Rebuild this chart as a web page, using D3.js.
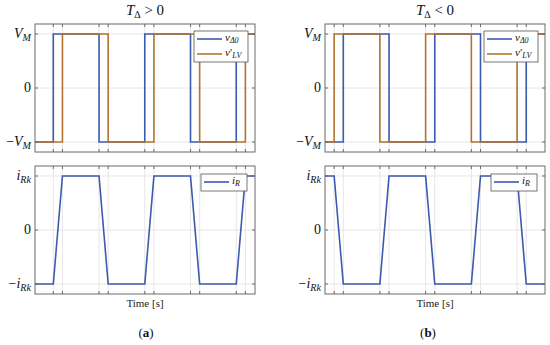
<!DOCTYPE html>
<html>
<head>
<meta charset="utf-8">
<script src="https://cdn.jsdelivr.net/npm/d3@7"></script>
<style>
  body { margin: 0; background: #fff; }
  svg { display: block; }
  text { font-family: 'Liberation Serif', 'DejaVu Serif', 'Times New Roman', serif; }
</style>
</head>
<body>
<svg id="chart" width="550" height="345"></svg>
<script>
'use strict';

// time axis in half-period units
var tDomain = [0, 4.81];

// panel (a): T_delta > 0
var tickTimesA = [0.4, 0.6, 1.4, 1.6, 2.4, 2.6, 3.4, 3.6, 4.4, 4.6];
var vDelta0TimeA = [0, 0.4, 0.4, 1.4, 1.4, 2.4, 2.4, 3.4, 3.4, 4.4, 4.4, 4.81];
var vDelta0ValA  = [-1, -1, 1, 1, -1, -1, 1, 1, -1, -1, 1, 1];
var vLVTimeA = [0, 0.6, 0.6, 1.6, 1.6, 2.6, 2.6, 3.6, 3.6, 4.6, 4.6, 4.81];
var vLVValA  = [-1, -1, 1, 1, -1, -1, 1, 1, -1, -1, 1, 1];
var iRTimeA = [0, 0.4, 0.6, 1.4, 1.6, 2.4, 2.6, 3.4, 3.6, 4.4, 4.6, 4.81];
var iRValA  = [-1, -1, 1, 1, -1, -1, 1, 1, -1, -1, 1, 1];

// panel (b): T_delta < 0
var tickTimesB = [0.2, 0.4, 1.2, 1.4, 2.2, 2.4, 3.2, 3.4, 4.2, 4.4];
var vDelta0TimeB = [0, 0.4, 0.4, 1.4, 1.4, 2.4, 2.4, 3.4, 3.4, 4.4, 4.4, 4.81];
var vDelta0ValB  = [-1, -1, 1, 1, -1, -1, 1, 1, -1, -1, 1, 1];
var vLVTimeB = [0, 0.2, 0.2, 1.2, 1.2, 2.2, 2.2, 3.2, 3.2, 4.2, 4.2, 4.81];
var vLVValB  = [-1, -1, 1, 1, -1, -1, 1, 1, -1, -1, 1, 1];
var iRTimeB = [0, 0.2, 0.4, 1.2, 1.4, 2.2, 2.4, 3.2, 3.4, 4.2, 4.4, 4.81];
var iRValB  = [1, 1, -1, -1, 1, 1, -1, -1, 1, 1, -1, -1];

var yTickVals = [-1, 0, 1];
var vTickLabels = [['−', 'V', 'M'], ['', '0', ''], ['', 'V', 'M']];
var iTickLabels = [['−', 'i', 'Rk'], ['', '0', ''], ['', 'i', 'Rk']];

var blue = '#3c5aae';
var orange = '#b4742e';
var axisColor = '#6b6b6b';
var gridColor = '#e6e6e6';
var serif = "'Liberation Serif', 'DejaVu Serif', serif";

var svg = d3.select('#chart');

function zip(ts, vs) {
  return ts.map(function(t, i) { return [t, vs[i]]; });
}

function addMathText(sel, parts, size) {
  // parts: [prefix, main (italic), subscript]
  if (parts[0]) sel.append('tspan').text(parts[0]);
  sel.append('tspan')
    .style('font-style', parts[1] === '0' ? 'normal' : 'italic')
    .text(parts[1]);
  if (parts[2]) {
    sel.append('tspan')
      .style('font-style', 'italic')
      .attr('font-size', size * 0.72)
      .attr('dy', size * 0.22)
      .text(parts[2]);
  }
}

function drawAxes(left, top, width, height, ticks, tickLabels, series, legend) {
  var x = d3.scaleLinear().domain(tDomain).range([left, left + width]);
  var y = d3.scaleLinear().domain([-1.185, 1.185]).range([top + height, top]);
  var g = svg.append('g');

  // grid
  g.selectAll('.vgrid').data(ticks).enter().append('line')
    .attr('x1', function(d) { return x(d); }).attr('x2', function(d) { return x(d); })
    .attr('y1', top).attr('y2', top + height)
    .attr('stroke', gridColor).attr('stroke-width', 1);
  g.selectAll('.hgrid').data(yTickVals).enter().append('line')
    .attr('y1', function(d) { return y(d); }).attr('y2', function(d) { return y(d); })
    .attr('x1', left).attr('x2', left + width)
    .attr('stroke', gridColor).attr('stroke-width', 1);

  // series
  var line = d3.line().x(function(d) { return x(d[0]); }).y(function(d) { return y(d[1]); });
  series.forEach(function(s) {
    g.append('path').datum(s.data)
      .attr('d', line)
      .attr('fill', 'none')
      .attr('stroke', s.color)
      .attr('stroke-width', 1.6);
  });

  // box
  g.append('rect')
    .attr('x', left).attr('y', top).attr('width', width).attr('height', height)
    .attr('fill', 'none').attr('stroke', axisColor).attr('stroke-width', 1);

  // tick marks (inward)
  var tl = 3;
  g.selectAll('.xtb').data(ticks).enter().append('line')
    .attr('x1', function(d) { return x(d); }).attr('x2', function(d) { return x(d); })
    .attr('y1', top + height).attr('y2', top + height - tl)
    .attr('stroke', axisColor);
  g.selectAll('.xtt').data(ticks).enter().append('line')
    .attr('x1', function(d) { return x(d); }).attr('x2', function(d) { return x(d); })
    .attr('y1', top).attr('y2', top + tl)
    .attr('stroke', axisColor);
  g.selectAll('.ytl').data(yTickVals).enter().append('line')
    .attr('y1', function(d) { return y(d); }).attr('y2', function(d) { return y(d); })
    .attr('x1', left).attr('x2', left + tl)
    .attr('stroke', axisColor);
  g.selectAll('.ytr').data(yTickVals).enter().append('line')
    .attr('y1', function(d) { return y(d); }).attr('y2', function(d) { return y(d); })
    .attr('x1', left + width).attr('x2', left + width - tl)
    .attr('stroke', axisColor);

  // y tick labels
  yTickVals.forEach(function(v, i) {
    var t = g.append('text')
      .attr('x', left - 4).attr('y', y(v) + 4)
      .attr('text-anchor', 'end')
      .attr('font-family', serif)
      .attr('font-size', 14)
      .attr('fill', '#111');
    addMathText(t, tickLabels[i], 14);
  });

  // legend
  var lg = g.append('g');
  lg.append('rect')
    .attr('x', legend.x).attr('y', legend.y)
    .attr('width', legend.w).attr('height', legend.h)
    .attr('fill', '#fff').attr('stroke', '#555').attr('stroke-width', 0.8);
  legend.items.forEach(function(it, i) {
    var ly = legend.y + 8 + i * 15;
    lg.append('line')
      .attr('x1', legend.x + 3).attr('x2', legend.x + 28)
      .attr('y1', ly).attr('y2', ly)
      .attr('stroke', it.color).attr('stroke-width', 1.6);
    var t = lg.append('text')
      .attr('x', legend.x + 31).attr('y', ly + 2)
      .attr('font-family', serif)
      .attr('font-size', 11).attr('fill', '#111');
    t.append('tspan').style('font-style', 'italic').text(it.main);
    if (it.prime) t.append('tspan').text('′');
    t.append('tspan').style('font-style', 'italic')
      .attr('font-size', 8).attr('dy', 2).text(it.sub);
  });
}

function drawPanel(left, title, ticks, vDelta0, vLV, iR, legX, legX2, letter, letterX) {
  var width = 220;
  var cx = left + width / 2;

  var tt = svg.append('text')
    .attr('x', cx).attr('y', 15)
    .attr('text-anchor', 'middle')
    .attr('font-family', serif)
    .attr('font-size', 15).attr('fill', '#111');
  tt.append('tspan').style('font-style', 'italic').text('T');
  tt.append('tspan').attr('font-size', 10).attr('dy', 3).text('Δ');
  tt.append('tspan').attr('dy', -3).text(title);

  drawAxes(left, 24, width, 128, ticks, vTickLabels,
    [{ data: vDelta0, color: blue }, { data: vLV, color: orange }],
    { x: legX, y: 31, w: 54, h: 31,
      items: [{ main: 'v', sub: 'Δ0', color: blue }, { main: 'v', prime: true, sub: 'LV', color: orange }] });

  drawAxes(left, 166, width, 128, ticks, iTickLabels,
    [{ data: iR, color: blue }],
    { x: legX2, y: 174, w: 46, h: 17,
      items: [{ main: 'i', sub: 'R', color: blue }] });

  svg.append('text')
    .attr('x', cx).attr('y', 307)
    .attr('text-anchor', 'middle')
    .attr('font-family', serif)
    .attr('font-size', 11).attr('fill', '#222')
    .text('Time [s]');

  var lt = svg.append('text')
    .attr('x', letterX).attr('y', 337)
    .attr('text-anchor', 'middle')
    .attr('font-family', serif)
    .attr('font-size', 13).attr('fill', '#111');
  lt.append('tspan').text('(');
  lt.append('tspan').attr('font-weight', 'bold').text(letter);
  lt.append('tspan').text(')');
}

drawPanel(35, ' > 0', tickTimesA,
  zip(vDelta0TimeA, vDelta0ValA), zip(vLVTimeA, vLVValA), zip(iRTimeA, iRValA),
  194, 201, 'a', 146);
drawPanel(325, ' < 0', tickTimesB,
  zip(vDelta0TimeB, vDelta0ValB), zip(vLVTimeB, vLVValB), zip(iRTimeB, iRValB),
  484, 491, 'b', 428);
</script>
</body>
</html>
